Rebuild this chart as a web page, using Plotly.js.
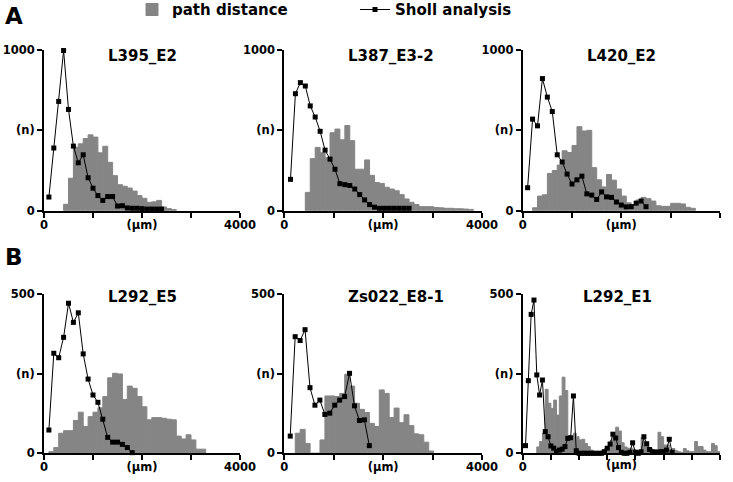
<!DOCTYPE html>
<html><head><meta charset="utf-8">
<script src="https://cdn.plot.ly/plotly-3.0.1.min.js"></script>
<style>html,body{margin:0;padding:0;background:#fff}#chart{width:733px;height:482px}</style>
</head><body><div id="chart"></div>
<script>
// ---------- data ----------
const panelNames = ['L395_E2', 'L387_E3-2', 'L420_E2', 'L292_E5', 'Zs022_E8-1', 'L292_E1'];
const panelLetters = ['A', 'B'];
const legendNames = ['path distance', 'Sholl analysis'];

// path distance histograms (bin centres in µm, counts)
const pathX_L395_E2 = [450,550,650,750,850,950,1050,1150,1250,1350,1450,1550,1650,1750,1850,1950,2050,2150,2250,2350,2450,2550,2650];
const pathY_L395_E2 = [40,202,395,416,449,472,458,360,401,301,218,162,152,141,122,94,77,52,55,64,23,13,7];

const pathX_L387_E3_2 = [475,575,675,775,875,975,1075,1175,1275,1375,1475,1575,1675,1775,1875,1975,2075,2175,2275,2375,2475,2575,2675,2775,2875,2975,3075,3175,3275,3375,3475,3575,3675,3775];
const pathY_L387_E3_2 = [114,324,394,360,330,485,508,441,530,436,258,258,316,220,175,170,146,135,124,100,73,52,38,25,25,25,20,18,15,15,12,12,10,8];

const pathX_L420_E2 = [250,350,450,550,650,750,850,950,1050,1150,1250,1350,1450,1550,1650,1750,1850,1950,2050,2150,2250,2350,2450,2550,2650,2750,2850,2950,3050,3150,3250,3350,3450];
const pathY_L420_E2 = [18,91,99,232,250,284,373,362,406,523,496,500,268,192,148,225,190,135,91,49,37,67,83,75,60,31,27,27,46,46,42,21,15];

const pathX_L292_E5 = [150,250,350,450,550,650,750,850,950,1050,1150,1250,1350,1450,1550,1650,1750,1850,1950,2050,2150,2250,2350,2450,2550,2650,2750,2850,2950,3050,3150,3250];
const pathY_L292_E5 = [5,18,63,71,71,103,129,84,115,129,143,178,237,251,249,169,211,204,178,146,105,112,112,110,107,105,54,45,58,42,13,13];

const pathX_Zs022_E8_1 = [272,372,472,572,672,772,872,972,1072,1172,1272,1372,1472,1572,1672,1772,1872,1972,2072,2172,2272,2372,2472,2572,2672,2772,2872,2972];
const pathY_Zs022_E8_1 = [63,75,31,0,0,42,180,180,178,188,248,211,157,138,128,94,84,199,188,112,142,96,121,87,61,58,35,7];

const pathX_L292_E1 = [550,650,750,850,950,1050,1150,1250,1350,1450,1550,1650,1750,1850,1950,2050,2150,2250,2350,2450,2550,2650,2750,2850,2950,3050,3150,3250,3350,3450,3550,3650,3750,3850,3950,4050,4150,4250,4350,4450,4550,4650,4750,4850,4950,5050,5150,5250,5350,5450,5550,5650,5750,5850,5950,6050,6150,6250,6350,6450,6550,6650,6750,6850,6950];
const pathY_L292_E1 = [20,37,63,201,157,141,167,120,180,239,197,52,47,63,52,42,44,31,21,10,5,3,5,10,16,20,40,60,82,70,33,20,16,16,12,10,8,50,30,20,15,8,12,66,52,26,26,12,15,8,5,3,15,8,5,5,37,21,21,10,5,5,31,24,5];

// Sholl analysis (radius in µm, intersections)
const shollX_L395_E2 = [100,200,300,400,500,600,700,800,900,1000,1100,1200,1300,1400,1500,1600,1700,1800,1900,2000,2100,2200,2300,2400];
const shollY_L395_E2 = [85,390,680,997,630,402,298,348,205,140,94,64,88,88,29,31,17,15,15,13,10,10,10,10];

const shollX_L387_E3_2 = [125,225,325,425,525,625,725,825,925,1025,1125,1225,1325,1425,1525,1625,1725,1825,1925,2025,2125,2225,2325,2425,2525];
const shollY_L387_E3_2 = [195,728,797,776,652,583,494,377,321,258,168,162,157,135,100,67,38,22,15,15,15,15,15,15,15];

const shollX_L420_E2 = [100,200,300,400,500,600,700,800,900,1000,1100,1200,1300,1400,1500,1600,1700,1800,1900,2000,2100,2200,2300,2400,2500];
const shollY_L420_E2 = [143,570,528,822,707,617,348,303,228,166,192,215,105,97,70,117,86,83,54,35,24,25,47,60,25];

const shollX_L292_E5 = [100,200,300,400,500,600,700,800,900,1000,1100,1200,1300,1400,1500,1600,1700,1800];
const shollY_L292_E5 = [73,314,300,364,471,411,441,312,233,183,160,107,50,35,35,28,18,2];

const shollX_Zs022_E8_1 = [120,220,320,420,520,620,720,820,920,1020,1120,1220,1320,1420,1520,1620,1720];
const shollY_Zs022_E8_1 = [54,366,354,388,206,151,167,122,126,151,167,178,251,149,103,105,24];

const shollX_L292_E1 = [100,200,300,400,500,600,700,800,900,1000,1100,1200,1300,1400,1500,1600,1700,1800,1900,2000,2100,2200,2300,2400,2500,2600,2700,2800,2900,3000,3100,3200,3300,3400,3500,3600,3700,3800,3900,4000,4100,4200,4300,4400,4500,4600,4700,4800,4900,5000,5100,5200,5300];
const shollY_L292_E1 = [24,228,436,481,246,183,230,68,52,23,16,5,10,13,21,47,49,180,8,0,0,0,0,0,0,0,0,0,5,16,29,60,48,18,3,0,0,3,33,3,0,5,52,30,12,5,3,3,5,5,10,44,3];

// axis ticks
const xTicks4000 = [0,1000,2000,3000,4000];
const xTickText4000 = ['0','','(\u00b5m)','','4000'];
const xTicks7000 = [0,1000,2000,3000,4000,5000,6000,7000];
const xTickText7000 = ['0','','','','','','','7000'];
const yTicksA = [0,500,1000];
const yTickTextA = ['0','(n)','1000'];
const yTicksB = [0,250,500];
const yTickTextB = ['0','(n)','500'];
const xUnitLabel = '(\u00b5m)';

// ---------- figure ----------
const W = 733, H = 482;
const FONT = 'DejaVu Sans';
const GRAY = '#858585';
const paths = [[pathX_L395_E2,pathY_L395_E2],[pathX_L387_E3_2,pathY_L387_E3_2],[pathX_L420_E2,pathY_L420_E2],
               [pathX_L292_E5,pathY_L292_E5],[pathX_Zs022_E8_1,pathY_Zs022_E8_1],[pathX_L292_E1,pathY_L292_E1]];
const sholls = [[shollX_L395_E2,shollY_L395_E2],[shollX_L387_E3_2,shollY_L387_E3_2],[shollX_L420_E2,shollY_L420_E2],
                [shollX_L292_E5,shollY_L292_E5],[shollX_Zs022_E8_1,shollY_Zs022_E8_1],[shollX_L292_E1,shollY_L292_E1]];

// pixel domains
const colPx = [[44,240],[284.3,482],[522.7,720]];
const rowPx = [[50,210.7],[294,453.3]];
const titleX = [2000,2150,2000,2000,2250,3350];
const titleYpx = [55.5,297];

const traces = [];
const layout = {
  width: W, height: H, margin: {l:0,r:0,t:0,b:0, autoexpand:false},
  paper_bgcolor:'#fff', plot_bgcolor:'#fff',
  barmode:'overlay', bargap:0, showlegend:true,
  font:{family:FONT, color:'#000'},
  annotations:[],
  legend:{x:132/W, xanchor:'left', y:1.014, yanchor:'top', orientation:'h', bgcolor:'rgba(0,0,0,0)',
          font:{family:FONT, size:15, weight:'bold', color:'#000'}},
  legend2:{x:355/W, xanchor:'left', y:1.014, yanchor:'top', orientation:'h', bgcolor:'rgba(0,0,0,0)',
          font:{family:FONT, size:15, weight:'bold', color:'#000'}}
};
const tickFont = {family:FONT, size:11.5, weight:'bold', color:'#000'};

for (let i = 0; i < 6; i++) {
  const n = i + 1;
  const row = i < 3 ? 0 : 1, col = i % 3;
  const xa = 'x' + (n === 1 ? '' : n), ya = 'y' + (n === 1 ? '' : n);
  const wide = (i === 5);
  traces.push({type:'bar', x:paths[i][0], y:paths[i][1], width:100, xaxis:xa, yaxis:ya,
    marker:{color:GRAY, line:{color:GRAY, width:1}}, name:legendNames[0],
    showlegend:i===0, legend:'legend', hoverinfo:'x+y'});
  traces.push({type:'scatter', mode:'lines+markers', x:sholls[i][0], y:sholls[i][1], xaxis:xa, yaxis:ya,
    line:{color:'#000', width:1}, marker:{symbol:'square', size:5, color:'#000'}, cliponaxis:false,
    name:legendNames[1], showlegend:i===0, legend:'legend2'});
  const xk = 'xaxis' + (n === 1 ? '' : n), yk = 'yaxis' + (n === 1 ? '' : n);
  layout[xk] = {domain:[colPx[col][0]/W, colPx[col][1]/W], anchor:ya, range:[0, wide ? 7000 : 4000],
    tickmode:'array', tickvals: wide ? xTicks7000 : xTicks4000, ticktext: wide ? xTickText7000 : xTickText4000,
    showline:true, linecolor:'#000', linewidth:2, ticks:'outside', ticklen:5, tickwidth:2, tickcolor:'#000',
    ticklabelstandoff:-3,
    showgrid:false, zeroline:false, tickfont:tickFont, fixedrange:true};
  layout[yk] = {domain:[1 - rowPx[row][1]/H, 1 - rowPx[row][0]/H], anchor:xa, range:[0, row===0 ? 1000 : 500],
    tickmode:'array', tickvals: row===0 ? yTicksA : yTicksB, ticktext: row===0 ? yTickTextA : yTickTextB,
    showline:true, linecolor:'#000', linewidth:2, ticks:'outside', ticklen:5, tickwidth:2, tickcolor:'#000',
    showgrid:false, zeroline:false, tickfont:tickFont, fixedrange:true};
  layout.annotations.push({text:panelNames[i], xref:xa, x:titleX[i], yref:'paper', y:1 - titleYpx[row]/H,
    xanchor:'center', yanchor:'middle', showarrow:false, font:{family:FONT, size:15, weight:'bold', color:'#000'}});
}
layout.annotations.push({text:xUnitLabel, xref:'x6', x:3500, yref:'paper', y:1 - 465/H, xanchor:'center', yanchor:'middle',
  showarrow:false, font:tickFont});
layout.annotations.push({text:panelLetters[0], xref:'paper', x:14/W, yref:'paper', y:1 - 16/H, xanchor:'center', yanchor:'middle',
  showarrow:false, font:{family:FONT, size:23, weight:'bold', color:'#000'}});
layout.annotations.push({text:panelLetters[1], xref:'paper', x:14/W, yref:'paper', y:1 - 257/H, xanchor:'center', yanchor:'middle',
  showarrow:false, font:{family:FONT, size:23, weight:'bold', color:'#000'}});

Plotly.newPlot('chart', traces, layout, {displayModeBar:false, staticPlot:true});
</script></body></html>
